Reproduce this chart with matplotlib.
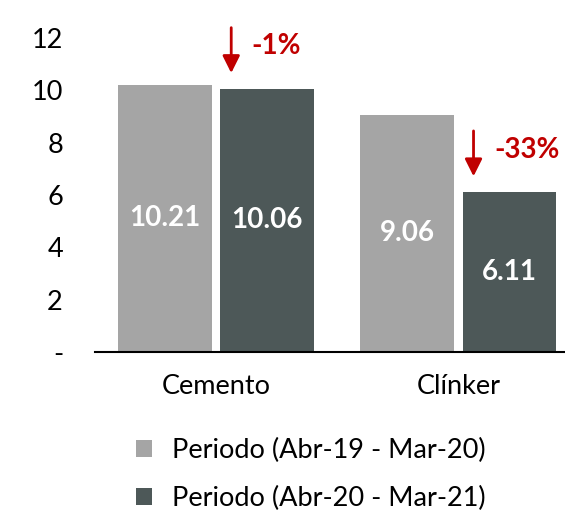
import matplotlib
matplotlib.use("Agg")
import matplotlib.pyplot as plt
import numpy as np

plt.rcParams['font.family'] = ['Lato', 'DejaVu Sans']

categories = ["Cemento", "Clínker"]
periodo_1 = [10.21, 9.06]
periodo_2 = [10.06, 6.11]
changes = ["-1%", "-33%"]
series_labels = ["Periodo (Abr-19 - Mar-20)", "Periodo (Abr-20 - Mar-21)"]
y_ticks = [0, 2, 4, 6, 8, 10, 12]
y_tick_labels = ["-", "2", "4", "6", "8", "10", "12"]

light = "#a5a5a5"
dark = "#4d5858"
red = "#c00000"

fig = plt.figure(figsize=(5.65, 5.13), dpi=100)
ax = fig.add_axes([0.168, 0.314, 0.832, 0.637])

x = np.arange(len(categories))
width = 0.387
offset = width / 2 + 0.017

bars1 = ax.bar(x - offset, periodo_1, width, color=light, label=series_labels[0])
bars2 = ax.bar(x + offset, periodo_2, width, color=dark, label=series_labels[1])

for bars in (bars1, bars2):
    for b in bars:
        h = b.get_height()
        ax.text(b.get_x() + b.get_width() / 2, h / 2, f"{h:.2f}",
                ha="center", va="center", color="white", fontsize=20, fontweight="bold")

# arrows with percentage change
for i, v in enumerate(periodo_2):
    ax_x = x[i] + offset - 0.148
    tip = v + 0.5
    tail = v + 2.45
    ax.annotate("", xy=(ax_x, tip), xytext=(ax_x, tail),
                arrowprops=dict(arrowstyle="-|>", color=red, lw=2, mutation_scale=26),
                annotation_clip=False)
    ax.text(ax_x + 0.085, (tip + tail) / 2 + 0.15, changes[i], color=red,
            fontsize=20, fontweight="bold", ha="left", va="center")

ax.set_xlim(-0.5, 1.44)
ax.set_ylim(0, 12.5)
ax.set_yticks(y_ticks)
ax.set_yticklabels(y_tick_labels)
ax.set_xticks(x)
ax.set_xticklabels(categories)
ax.tick_params(axis="both", length=0, labelsize=19.5, colors="black")
ax.tick_params(axis="y", pad=23)
ax.tick_params(axis="x", pad=16)
for s in ["top", "right", "left"]:
    ax.spines[s].set_visible(False)
ax.spines["bottom"].set_linewidth(1.5)

fig.legend(handles=[bars1, bars2], labels=series_labels, loc="upper left",
           bbox_to_anchor=(0.24, 0.146), frameon=False, fontsize=19.5,
           handlelength=0.6, handleheight=0.6, handletextpad=0.75, labelspacing=0.85,
           borderaxespad=0, borderpad=0)

fig.savefig("out.png", dpi=100)
